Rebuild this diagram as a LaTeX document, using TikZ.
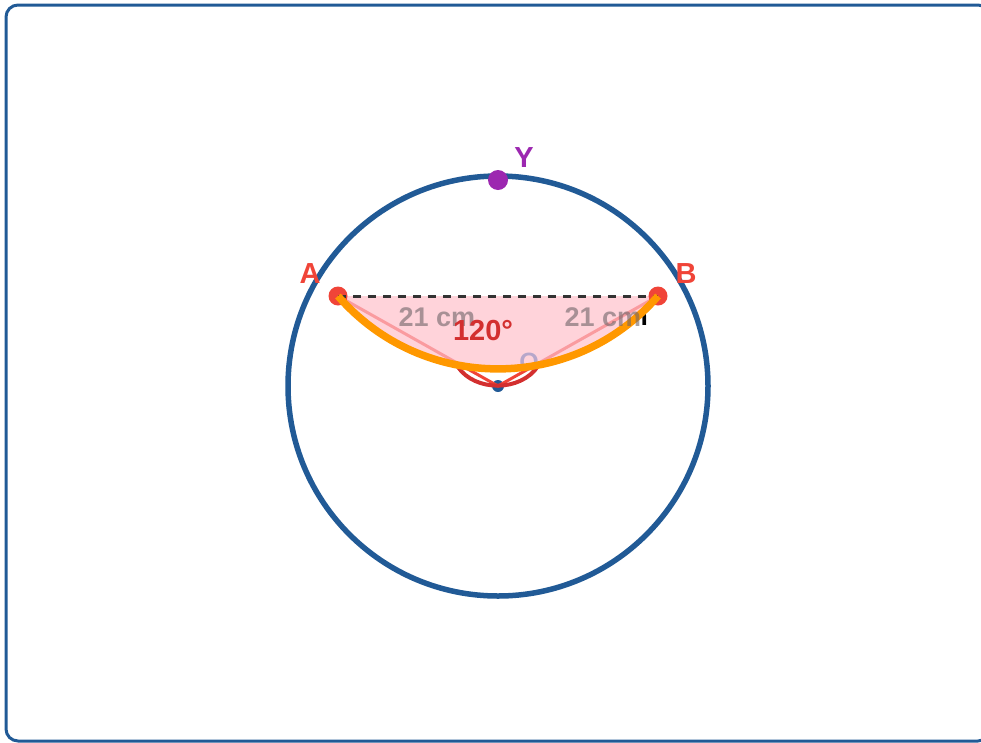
\documentclass[tikz,border=0pt]{standalone}
\usepackage{fontspec}
\setmainfont{Liberation Sans}
\definecolor{frameblue}{RGB}{33,90,150}
\definecolor{ptred}{RGB}{240,68,56}
\definecolor{angred}{RGB}{211,47,47}
\definecolor{ypurple}{RGB}{156,39,176}
\definecolor{orarc}{RGB}{255,152,0}
\definecolor{segpink}{RGB}{255,192,203}
\definecolor{olab}{RGB}{170,160,200}
\definecolor{lengrey}{RGB}{110,100,104}
\tikzset{
  lab/.style={font=\fontsize{29}{32}\selectfont\bfseries, inner sep=0pt},
  lenlab/.style={inner sep=0pt, font=\fontsize{27}{30}\selectfont\bfseries, text=lengrey, text opacity=0.6},
  ptdot/.style={circle, fill=ptred, inner sep=0pt, minimum size=19pt},
}
\begin{document}
\begin{tikzpicture}[x=1pt,y=-1pt]
\useasboundingbox (0,0) rectangle (981,742);
% frame
\draw[frameblue, line width=3pt, rounded corners=12pt] (6,5) rectangle (990,741);
% circle
\coordinate (O) at (498,386);
\draw[frameblue, line width=5.5pt, line join=round] (O) circle[radius=210pt];
% centre dot
\node[circle, fill=frameblue, inner sep=0pt, minimum size=12pt] (Odot) at (O) {};
% points
\coordinate (A) at (338,296);
\coordinate (B) at (658,296);
% radii
\draw[ptred, line width=3pt] (A) -- (O) -- (B);
% segment fill
\fill[segpink, opacity=0.7] (A) .. controls (422.5,393.2) and (573.5,393.2) .. (B) -- cycle;
% O label
\node[inner sep=0pt, font=\fontsize{25}{28}\selectfont\bfseries, text=olab, text opacity=0.85] (Olab) at (529,362) {O};
% angle marker
\coordinate (M1) at (458,367);
\coordinate (M2) at (538,366);
\draw[angred, line width=4pt] (M1) .. controls (475,392) and (521,392) .. (M2);
% black fragment
\begin{scope}
\clip (639,306) rectangle (650,330);
\node[lenlab, text=black, text opacity=1, anchor=east] (frag) at (648,318) {m};
\end{scope}
% point dots
\node[ptdot] (Adot) at (A) {};
\node[ptdot] (Bdot) at (B) {};
\node[circle, fill=ypurple, inner sep=0pt, minimum size=20pt] (Ydot) at (498,180) {};
% dashed chord
\draw[black!80, line width=3pt, dash pattern=on 8pt off 7pt] (Adot.center) -- (Bdot.center);
% orange arc
\draw[orarc, line width=7.5pt] (Adot.center) .. controls (422.5,393.2) and (573.5,393.2) .. (Bdot.center);
% labels
\node[lab, text=ptred] (Alab) at (310,274) {A};
\node[lab, text=ptred] (Blab) at (686,274) {B};
\node[lab, text=ypurple] (Ylab) at (524,158) {Y};
\node[lenlab] (l1) at (437,317) {21 cm};
\node[lenlab] (l2) at (603,317) {21 cm};
\node[lab, text=angred] (ang) at (483,331) {120°};
\end{tikzpicture}
\end{document}
